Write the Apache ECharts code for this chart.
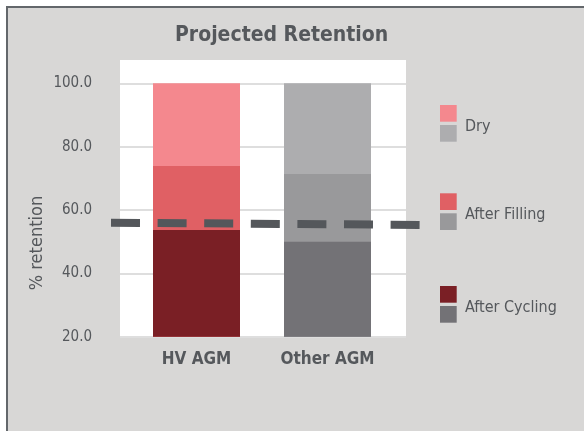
<!DOCTYPE html>
<html>
<head>
<meta charset="utf-8">
<script src="https://cdn.jsdelivr.net/npm/echarts@6/dist/echarts.min.js"></script>
<style>
  body { margin: 0; background: #fff; }
  #frame { position: absolute; left: 6px; top: 6px; right: 0; bottom: 0;
           border-left: 2px solid #63676b; border-top: 2px solid #63676b; background: #d8d7d6; }
  #main { position: absolute; left: 0; top: 0; width: 584px; height: 431px; }
</style>
</head>
<body>
<div id="frame"></div>
<div id="main"></div>
<script>
// values
var categories = ['HV AGM', 'Other AGM'];
var stages = ['Dry', 'After Filling', 'After Cycling'];
var dry = [100, 100];
var afterFilling = [73.9, 71.4];
var afterCycling = [53.7, 50.0];
var projected = [56.0, 55.3];   // dashed line, left end / right end
var yTicks = [20, 40, 60, 80, 100];

// [HV AGM colour, Other AGM colour] for each stage
var stageColors = [
    ['#f4888e', '#adadaf'],
    ['#e06064', '#99999b'],
    ['#7a1f25', '#737276']
];
var stageValues = [dry, afterFilling, afterCycling];

var font = '"DejaVu Sans Condensed", sans-serif';
var textColor = '#55585c';

var myChart = echarts.init(document.getElementById('main'));

var yMin = yTicks[0];
var yMax = yTicks[yTicks.length - 1];
var plotTop = 83.3, plotHeight = 253.4;

var barSeries = stages.map(function (name, s) {
    return {
        name: name,
        type: 'bar',
        xAxisIndex: 2,
        yAxisIndex: 2,
        barWidth: 87,
        barGap: '-100%',
        data: stageValues[s].map(function (v, i) {
            return { value: v, itemStyle: { color: stageColors[s][i] } };
        })
    };
});

// legend: a pair of swatches for each stage
var legendTops = [105, 193.3, 286];
var legendItems = [];
stages.forEach(function (name, s) {
    var y0 = legendTops[s];
    legendItems.push({ type: 'rect', shape: { x: 440, y: y0, width: 16.7, height: 16.7 }, style: { fill: stageColors[s][0] } });
    legendItems.push({ type: 'rect', shape: { x: 440, y: y0 + 20, width: 16.7, height: 16.7 }, style: { fill: stageColors[s][1] } });
    legendItems.push({ type: 'text', x: 465, y: y0 + 21.5,
        style: { text: name, fill: textColor, font: '16px ' + font, verticalAlign: 'middle' } });
});

var option = {
    animation: false,
    title: {
        text: 'Projected Retention',
        left: 175,
        top: 25,
        padding: 0,
        textStyle: { color: textColor, fontFamily: font, fontSize: 21, fontWeight: 'bold' }
    },
    grid: [
        // white plot background
        { left: 120, top: 60, width: 286, height: 277, show: true, backgroundColor: '#fff', borderWidth: 0 },
        // tick labels and grid lines
        { left: 120, top: plotTop, width: 286, height: plotHeight },
        // bars
        { left: 131, top: plotTop, width: 262, height: plotHeight },
        // projected dashed line
        { left: 111, top: plotTop, width: 310, height: plotHeight }
    ],
    xAxis: [
        { gridIndex: 0, type: 'value', show: false },
        { gridIndex: 1, type: 'value', show: false },
        { gridIndex: 2, type: 'category', data: categories,
          axisLine: { show: false }, axisTick: { show: false },
          axisLabel: { margin: 14, color: textColor, fontFamily: font, fontSize: 17, fontWeight: 'bold' } },
        { gridIndex: 3, type: 'value', min: 0, max: 1, show: false }
    ],
    yAxis: [
        { gridIndex: 0, type: 'value', show: false },
        { gridIndex: 1, type: 'value', min: yMin, max: yMax, interval: 20,
          axisLine: { show: false }, axisTick: { show: false },
          axisLabel: { margin: 28, color: textColor, fontFamily: font, fontSize: 15,
                       formatter: function (v) { return v.toFixed(1); } },
          splitLine: { lineStyle: { color: '#dedede', width: 2 } } },
        { gridIndex: 2, type: 'value', min: yMin, max: yMax, show: false },
        { gridIndex: 3, type: 'value', min: yMin, max: yMax, show: false }
    ],
    graphic: [
        { type: 'text', x: 37, y: 243, rotation: Math.PI / 2,
          style: { text: '% retention', fill: textColor, font: '18px ' + font, align: 'center', verticalAlign: 'middle' } },
        { type: 'group', children: legendItems }
    ],
    series: barSeries.concat([{
        name: 'Projected',
        type: 'line',
        xAxisIndex: 3,
        yAxisIndex: 3,
        symbol: 'none',
        clip: false,
        z: 5,
        data: [[0, projected[0]], [1, projected[1]]],
        lineStyle: { color: '#54575b', width: 8, type: [29, 17.6], cap: 'butt' }
    }])
};

myChart.setOption(option);
</script>
</body>
</html>
